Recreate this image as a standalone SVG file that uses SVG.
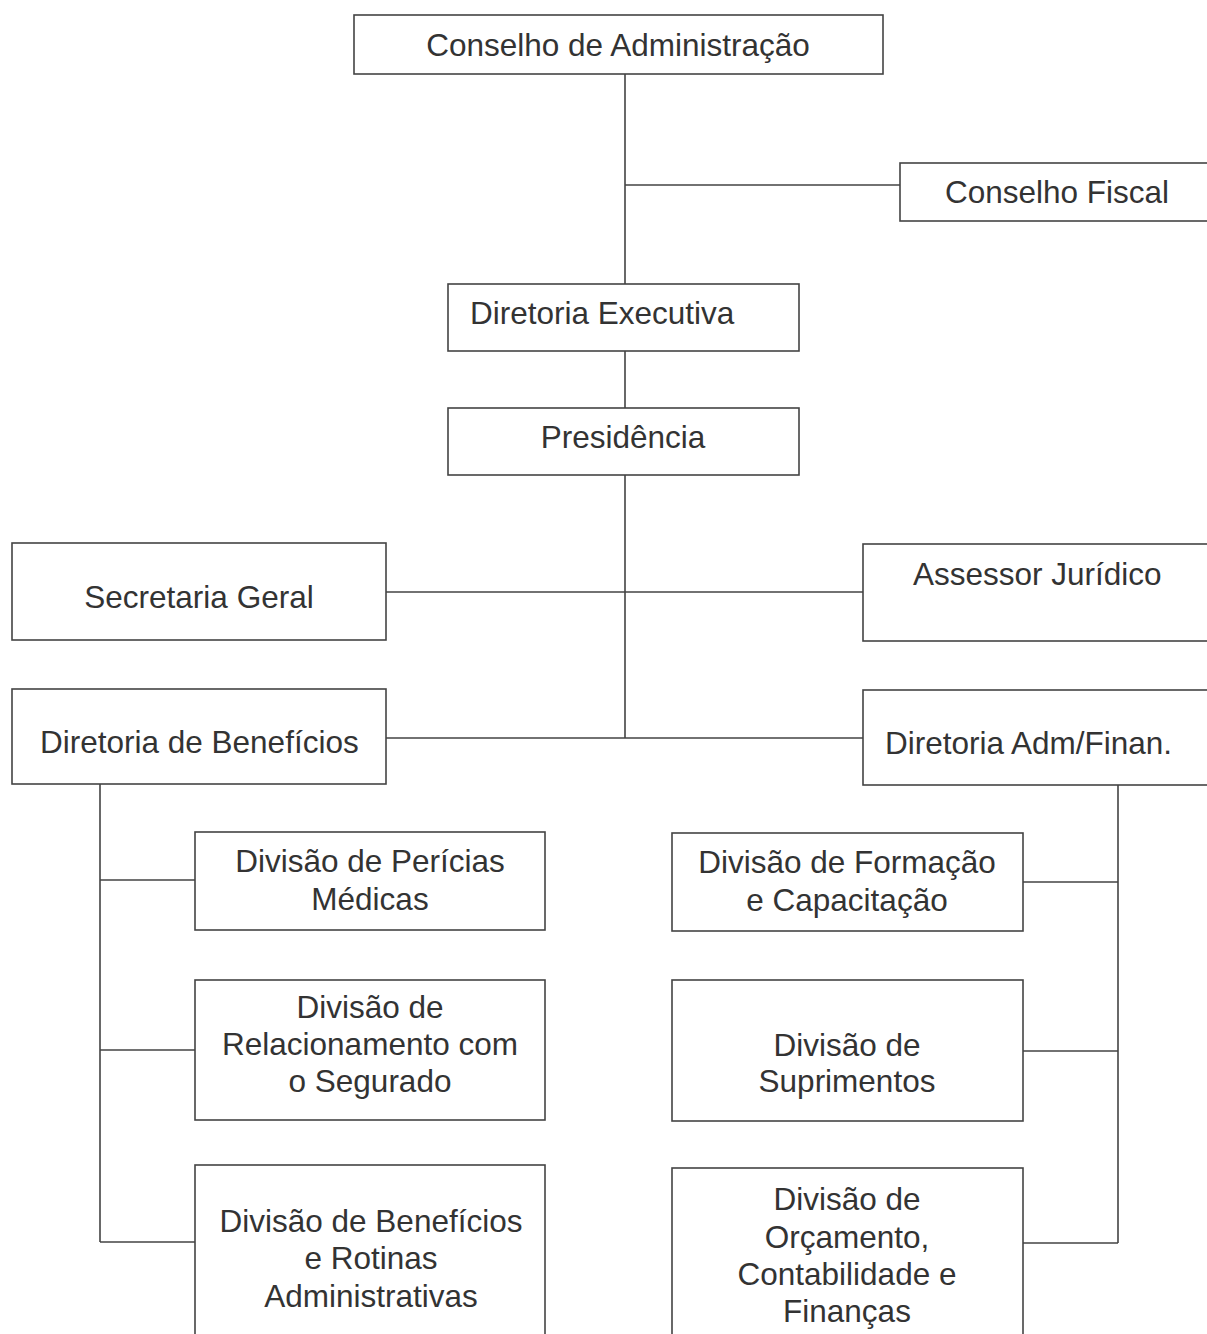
<svg xmlns="http://www.w3.org/2000/svg" width="1207" height="1334" viewBox="0 0 1207 1334">
<style>
.box{fill:#fff;stroke:#444;stroke-width:1.6}
.ln{fill:none;stroke:#444;stroke-width:1.6}
text{font-family:"Liberation Sans",Arial,sans-serif;font-size:31.5px;fill:#333}
.c{text-anchor:middle}
</style>
<rect width="1207" height="1334" fill="#fff"/>
<g id="connectors">
<path class="ln" d="M625 74V284M625 185H900M625 351V408M625 475V738M386 592H863M386 738H863"/>
<path class="ln" d="M100 784V1242M100 880H195M100 1050H195M100 1242H195"/>
<path class="ln" d="M1118 785V1243M1023 882H1118M1023 1051H1118M1023 1243H1118"/>
</g>
<g id="n1"><rect class="box" x="354" y="15" width="529" height="59"/><text class="c" x="618" y="56">Conselho de Administração</text></g>
<g id="n2"><rect class="box" x="900" y="163" width="320" height="58"/><text x="945" y="203">Conselho Fiscal</text></g>
<g id="n3"><rect class="box" x="448" y="284" width="351" height="67"/><text x="470" y="324">Diretoria Executiva</text></g>
<g id="n4"><rect class="box" x="448" y="408" width="351" height="67"/><text class="c" x="623" y="448">Presidência</text></g>
<g id="n5"><rect class="box" x="12" y="543" width="374" height="97"/><text class="c" x="199" y="608">Secretaria Geral</text></g>
<g id="n6"><rect class="box" x="863" y="544" width="360" height="97"/><text x="913" y="585">Assessor Jurídico</text></g>
<g id="n7"><rect class="box" x="12" y="689" width="374" height="95"/><text x="40" y="753">Diretoria de Benefícios</text></g>
<g id="n8"><rect class="box" x="863" y="690" width="360" height="95"/><text x="885" y="754">Diretoria Adm/Finan.</text></g>
<g id="n9"><rect class="box" x="195" y="832" width="350" height="98"/><text class="c" x="370" y="872">Divisão de Perícias</text><text class="c" x="370" y="910">Médicas</text></g>
<g id="n10"><rect class="box" x="195" y="980" width="350" height="140"/><text class="c" x="370" y="1018">Divisão de</text><text class="c" x="370" y="1055">Relacionamento com</text><text class="c" x="370" y="1092">o Segurado</text></g>
<g id="n11"><rect class="box" x="195" y="1165" width="350" height="190"/><text class="c" x="371" y="1232">Divisão de Benefícios</text><text class="c" x="371" y="1269">e Rotinas</text><text class="c" x="371" y="1307">Administrativas</text></g>
<g id="n12"><rect class="box" x="672" y="833" width="351" height="98"/><text class="c" x="847" y="873">Divisão de Formação</text><text class="c" x="847" y="911">e Capacitação</text></g>
<g id="n13"><rect class="box" x="672" y="980" width="351" height="141"/><text class="c" x="847" y="1056">Divisão de</text><text class="c" x="847" y="1092">Suprimentos</text></g>
<g id="n14"><rect class="box" x="672" y="1168" width="351" height="190"/><text class="c" x="847" y="1210">Divisão de</text><text class="c" x="847" y="1248">Orçamento,</text><text class="c" x="847" y="1285">Contabilidade e</text><text class="c" x="847" y="1322">Finanças</text></g>
</svg>
